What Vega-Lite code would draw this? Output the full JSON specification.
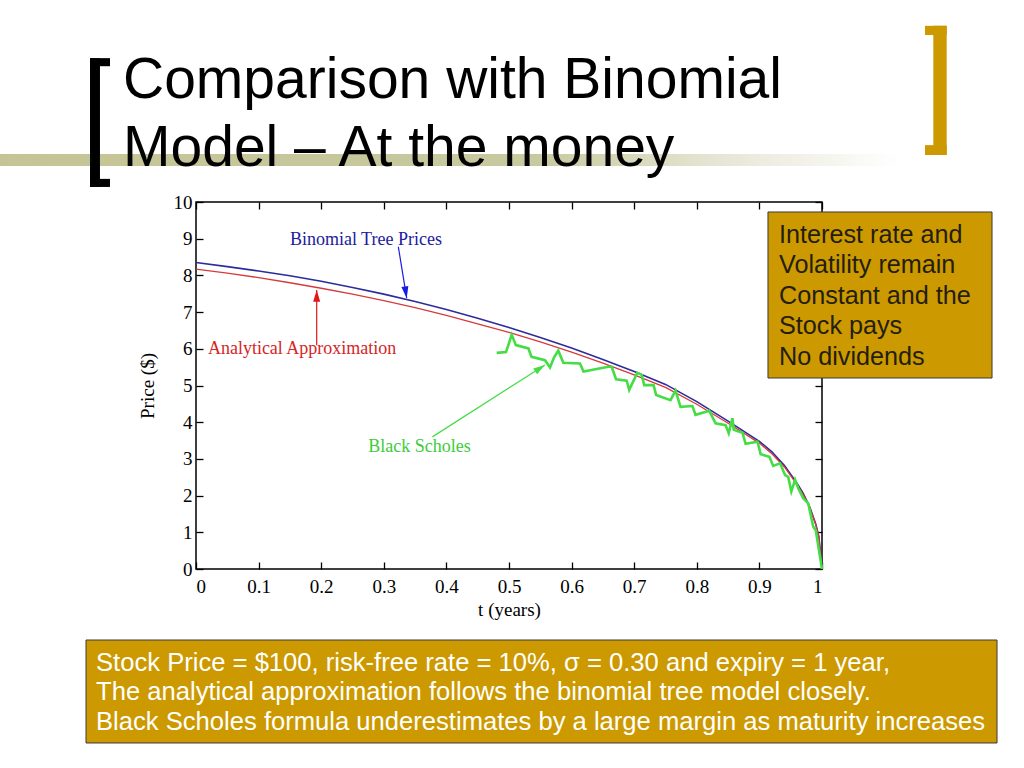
{
  "$schema": "https://vega.github.io/schema/vega-lite/v6.json",
  "width": 626,
  "height": 367,
  "autosize": {"type": "none"},
  "padding": {"left": 196, "top": 202, "right": 202, "bottom": 199},
  "background": "#ffffff",
  "config": {
    "view": {"stroke": "#000000", "strokeWidth": 1.5},
    "axis": {"domain": false, "grid": false, "tickColor": "#000000", "tickWidth": 1.3, "tickSize": -7, "labelFont": "Liberation Serif", "labelFontSize": 19, "labelColor": "#000000", "titleFont": "Liberation Serif", "titleFontSize": 19, "titleFontWeight": "normal", "titleColor": "#000000"}
  },
  "datasets": {
    "curves": [
      {"model": "Binomial", "t": 0, "price": 8.35},
      {"model": "Binomial", "t": 0.05, "price": 8.24},
      {"model": "Binomial", "t": 0.1, "price": 8.12},
      {"model": "Binomial", "t": 0.15, "price": 7.99},
      {"model": "Binomial", "t": 0.2, "price": 7.84},
      {"model": "Binomial", "t": 0.25, "price": 7.67},
      {"model": "Binomial", "t": 0.3, "price": 7.49},
      {"model": "Binomial", "t": 0.35, "price": 7.29},
      {"model": "Binomial", "t": 0.4, "price": 7.07},
      {"model": "Binomial", "t": 0.45, "price": 6.83},
      {"model": "Binomial", "t": 0.5, "price": 6.58},
      {"model": "Binomial", "t": 0.55, "price": 6.31},
      {"model": "Binomial", "t": 0.6, "price": 6.02},
      {"model": "Binomial", "t": 0.65, "price": 5.71},
      {"model": "Binomial", "t": 0.7, "price": 5.38},
      {"model": "Binomial", "t": 0.75, "price": 5.03},
      {"model": "Binomial", "t": 0.8, "price": 4.56},
      {"model": "Binomial", "t": 0.85, "price": 4.03},
      {"model": "Binomial", "t": 0.9, "price": 3.48},
      {"model": "Binomial", "t": 0.92, "price": 3.19},
      {"model": "Binomial", "t": 0.94, "price": 2.82},
      {"model": "Binomial", "t": 0.96, "price": 2.34},
      {"model": "Binomial", "t": 0.97, "price": 2.06},
      {"model": "Binomial", "t": 0.98, "price": 1.71},
      {"model": "Binomial", "t": 0.99, "price": 1.23},
      {"model": "Binomial", "t": 0.995, "price": 0.88},
      {"model": "Binomial", "t": 1, "price": 0},
      {"model": "Analytical", "t": 0, "price": 8.17},
      {"model": "Analytical", "t": 0.05, "price": 8.06},
      {"model": "Analytical", "t": 0.1, "price": 7.94},
      {"model": "Analytical", "t": 0.15, "price": 7.8},
      {"model": "Analytical", "t": 0.2, "price": 7.65},
      {"model": "Analytical", "t": 0.25, "price": 7.49},
      {"model": "Analytical", "t": 0.3, "price": 7.31},
      {"model": "Analytical", "t": 0.35, "price": 7.12},
      {"model": "Analytical", "t": 0.4, "price": 6.91},
      {"model": "Analytical", "t": 0.45, "price": 6.68},
      {"model": "Analytical", "t": 0.5, "price": 6.45},
      {"model": "Analytical", "t": 0.55, "price": 6.19},
      {"model": "Analytical", "t": 0.6, "price": 5.91},
      {"model": "Analytical", "t": 0.65, "price": 5.61},
      {"model": "Analytical", "t": 0.7, "price": 5.29},
      {"model": "Analytical", "t": 0.75, "price": 4.95},
      {"model": "Analytical", "t": 0.8, "price": 4.49},
      {"model": "Analytical", "t": 0.85, "price": 3.97},
      {"model": "Analytical", "t": 0.9, "price": 3.43},
      {"model": "Analytical", "t": 0.92, "price": 3.14},
      {"model": "Analytical", "t": 0.94, "price": 2.78},
      {"model": "Analytical", "t": 0.96, "price": 2.3},
      {"model": "Analytical", "t": 0.97, "price": 2.03},
      {"model": "Analytical", "t": 0.98, "price": 1.69},
      {"model": "Analytical", "t": 0.99, "price": 1.21},
      {"model": "Analytical", "t": 0.995, "price": 0.87},
      {"model": "Analytical", "t": 1, "price": 0},
      {"model": "BlackScholes", "t": 0.4803, "price": 5.89},
      {"model": "BlackScholes", "t": 0.4952, "price": 5.91},
      {"model": "BlackScholes", "t": 0.5043, "price": 6.38},
      {"model": "BlackScholes", "t": 0.511, "price": 6.1},
      {"model": "BlackScholes", "t": 0.531, "price": 6.01},
      {"model": "BlackScholes", "t": 0.536, "price": 5.78},
      {"model": "BlackScholes", "t": 0.5575, "price": 5.69},
      {"model": "BlackScholes", "t": 0.5655, "price": 5.49},
      {"model": "BlackScholes", "t": 0.572, "price": 5.77},
      {"model": "BlackScholes", "t": 0.5787, "price": 5.95},
      {"model": "BlackScholes", "t": 0.5868, "price": 5.62},
      {"model": "BlackScholes", "t": 0.6134, "price": 5.6},
      {"model": "BlackScholes", "t": 0.619, "price": 5.38},
      {"model": "BlackScholes", "t": 0.6587, "price": 5.51},
      {"model": "BlackScholes", "t": 0.664, "price": 5.51},
      {"model": "BlackScholes", "t": 0.671, "price": 5.17},
      {"model": "BlackScholes", "t": 0.688, "price": 5.13},
      {"model": "BlackScholes", "t": 0.692, "price": 4.88},
      {"model": "BlackScholes", "t": 0.705, "price": 5.35},
      {"model": "BlackScholes", "t": 0.712, "price": 5.29},
      {"model": "BlackScholes", "t": 0.716, "price": 5.01},
      {"model": "BlackScholes", "t": 0.731, "price": 5.01},
      {"model": "BlackScholes", "t": 0.735, "price": 4.74},
      {"model": "BlackScholes", "t": 0.758, "price": 4.6},
      {"model": "BlackScholes", "t": 0.766, "price": 4.86},
      {"model": "BlackScholes", "t": 0.774, "price": 4.42},
      {"model": "BlackScholes", "t": 0.793, "price": 4.44},
      {"model": "BlackScholes", "t": 0.798, "price": 4.2},
      {"model": "BlackScholes", "t": 0.82, "price": 4.31},
      {"model": "BlackScholes", "t": 0.83, "price": 3.97},
      {"model": "BlackScholes", "t": 0.846, "price": 3.92},
      {"model": "BlackScholes", "t": 0.851, "price": 3.7},
      {"model": "BlackScholes", "t": 0.857, "price": 4.11},
      {"model": "BlackScholes", "t": 0.859, "price": 3.79},
      {"model": "BlackScholes", "t": 0.873, "price": 3.71},
      {"model": "BlackScholes", "t": 0.878, "price": 3.41},
      {"model": "BlackScholes", "t": 0.897, "price": 3.47},
      {"model": "BlackScholes", "t": 0.902, "price": 3.13},
      {"model": "BlackScholes", "t": 0.916, "price": 3.06},
      {"model": "BlackScholes", "t": 0.922, "price": 2.81},
      {"model": "BlackScholes", "t": 0.933, "price": 2.88},
      {"model": "BlackScholes", "t": 0.941, "price": 2.56},
      {"model": "BlackScholes", "t": 0.946, "price": 2.51},
      {"model": "BlackScholes", "t": 0.951, "price": 2.11},
      {"model": "BlackScholes", "t": 0.957, "price": 2.43},
      {"model": "BlackScholes", "t": 0.962, "price": 2.2},
      {"model": "BlackScholes", "t": 0.97, "price": 1.93},
      {"model": "BlackScholes", "t": 0.978, "price": 1.79},
      {"model": "BlackScholes", "t": 0.986, "price": 1.15},
      {"model": "BlackScholes", "t": 0.99, "price": 1.06},
      {"model": "BlackScholes", "t": 1, "price": 0}
    ],
    "notes": [
      {"model": "Binomial", "label": "Binomial Tree Prices", "t": 0.15, "price": 8.96, "t2": 0.3232, "price2": 8.78, "t3": 0.3366, "price3": 7.38},
      {"model": "Analytical", "label": "Analytical Approximation", "t": 0.019, "price": 5.99, "t2": 0.1928, "price2": 6.1, "t3": 0.1928, "price3": 7.6},
      {"model": "BlackScholes", "label": "Black Scholes", "t": 0.275, "price": 3.33, "t2": 0.3776, "price2": 3.6, "t3": 0.5575, "price3": 5.56}
    ]
  },
  "layer": [
    {
      "data": {"values": [{}]},
      "mark": {"type": "rect", "fill": {"gradient": "linear", "x1": 0, "x2": 1, "y1": 0, "y2": 0, "stops": [{"offset": 0, "color": "#c4c496"}, {"offset": 0.6, "color": "#c9c9a0"}, {"offset": 0.8, "color": "#e6e6d6"}, {"offset": 1, "color": "#ffffff"}]}},
      "encoding": {
        "x": {"datum": -0.3131, "type": "quantitative", "axis": null, "scale": {"domain": [0, 1], "nice": false, "zero": false}},
        "x2": {"datum": 1.1246},
        "y": {"datum": 11.31, "type": "quantitative", "axis": null, "scale": {"domain": [0, 10], "nice": false, "zero": false}},
        "y2": {"datum": 10.98}
      }
    },
    {
      "data": {"values": [{}]},
      "mark": {"type": "rect", "fill": "#000000"},
      "encoding": {"x": {"datum": -0.1693, "type": "quantitative", "axis": null}, "x2": {"datum": -0.1534}, "y": {"datum": 13.92, "type": "quantitative", "axis": null}, "y2": {"datum": 10.41}}
    },
    {
      "data": {"values": [{}]},
      "mark": {"type": "rect", "fill": "#000000"},
      "encoding": {"x": {"datum": -0.1693, "type": "quantitative", "axis": null}, "x2": {"datum": -0.1374}, "y": {"datum": 13.92, "type": "quantitative", "axis": null}, "y2": {"datum": 13.7}}
    },
    {
      "data": {"values": [{}]},
      "mark": {"type": "rect", "fill": "#000000"},
      "encoding": {"x": {"datum": -0.1693, "type": "quantitative", "axis": null}, "x2": {"datum": -0.1374}, "y": {"datum": 10.63, "type": "quantitative", "axis": null}, "y2": {"datum": 10.41}}
    },
    {
      "data": {"values": [{}]},
      "mark": {"type": "rect", "fill": "#cc9900"},
      "encoding": {"x": {"datum": 1.1778, "type": "quantitative", "axis": null}, "x2": {"datum": 1.1992}, "y": {"datum": 14.8, "type": "quantitative", "axis": null}, "y2": {"datum": 11.28}}
    },
    {
      "data": {"values": [{}]},
      "mark": {"type": "rect", "fill": "#cc9900"},
      "encoding": {"x": {"datum": 1.1645, "type": "quantitative", "axis": null}, "x2": {"datum": 1.1992}, "y": {"datum": 14.8, "type": "quantitative", "axis": null}, "y2": {"datum": 14.55}}
    },
    {
      "data": {"values": [{}]},
      "mark": {"type": "rect", "fill": "#cc9900"},
      "encoding": {"x": {"datum": 1.1645, "type": "quantitative", "axis": null}, "x2": {"datum": 1.1992}, "y": {"datum": 11.55, "type": "quantitative", "axis": null}, "y2": {"datum": 11.28}}
    },
    {
      "data": {"values": [{}]},
      "mark": {"type": "text", "text": ["Comparison with Binomial", "Model \u2013 At the money"], "align": "left", "baseline": "alphabetic", "font": "Liberation Sans", "fontSize": 57, "lineHeight": 67.5, "color": "#000000"},
      "encoding": {"x": {"datum": -0.1166, "type": "quantitative", "axis": null}, "y": {"datum": 12.83, "type": "quantitative", "axis": null}}
    },
    {
      "data": {"name": "curves"},
      "transform": [{"filter": "datum.model === 'Binomial'"}],
      "mark": {"type": "line", "color": "#2c2c9c", "strokeWidth": 1.6},
      "encoding": {
        "x": {"field": "t", "type": "quantitative", "scale": {"domain": [0, 1], "nice": false, "zero": false}, "axis": {"orient": "bottom", "values": [0, 0.1, 0.2, 0.3, 0.4, 0.5, 0.6, 0.7, 0.8, 0.9, 1], "format": "~g", "title": "t (years)", "labelPadding": 15, "titlePadding": 4}},
        "y": {"field": "price", "type": "quantitative", "scale": {"domain": [0, 10], "nice": false, "zero": false}, "axis": {"orient": "left", "values": [0, 1, 2, 3, 4, 5, 6, 7, 8, 9, 10], "title": "Price ($)", "labelPadding": 11, "titlePadding": 16}}
      }
    },
    {
      "data": {"name": "curves"},
      "transform": [{"filter": "datum.model === 'Analytical'"}],
      "mark": {"type": "line", "color": "#d63a3a", "strokeWidth": 1.3},
      "encoding": {
        "x": {"field": "t", "type": "quantitative", "axis": {"orient": "top", "values": [0, 0.1, 0.2, 0.3, 0.4, 0.5, 0.6, 0.7, 0.8, 0.9, 1], "labels": false, "title": null}},
        "y": {"field": "price", "type": "quantitative", "axis": {"orient": "right", "values": [0, 1, 2, 3, 4, 5, 6, 7, 8, 9, 10], "labels": false, "title": null}}
      }
    },
    {
      "data": {"name": "curves"},
      "transform": [{"filter": "datum.model === 'BlackScholes'"}],
      "mark": {"type": "line", "color": "#44dd44", "strokeWidth": 2.6, "strokeJoin": "miter"},
      "encoding": {
        "x": {"field": "t", "type": "quantitative", "axis": null},
        "y": {"field": "price", "type": "quantitative", "axis": null}
      }
    },
    {
      "data": {"name": "notes"},
      "mark": {"type": "text", "align": "left", "baseline": "middle", "font": "Liberation Serif", "fontSize": 18},
      "encoding": {
        "x": {"field": "t", "type": "quantitative", "axis": null},
        "y": {"field": "price", "type": "quantitative", "axis": null},
        "text": {"field": "label"},
        "color": {"field": "model", "type": "nominal", "scale": {"domain": ["Binomial", "Analytical", "BlackScholes"], "range": ["#20209e", "#d42626", "#3ccc3c"]}, "legend": null}
      }
    },
    {
      "data": {"name": "notes"},
      "mark": {"type": "rule", "strokeWidth": 1.2},
      "encoding": {
        "x": {"field": "t2", "type": "quantitative", "axis": null},
        "y": {"field": "price2", "type": "quantitative", "axis": null},
        "x2": {"field": "t3"},
        "y2": {"field": "price3"},
        "stroke": {"field": "model", "type": "nominal", "scale": {"domain": ["Binomial", "Analytical", "BlackScholes"], "range": ["#1a1ae6", "#e01818", "#44dd44"]}, "legend": null}
      }
    },
    {
      "data": {"name": "notes"},
      "transform": [{"filter": "datum.model === 'Binomial'"}],
      "mark": {"type": "point", "shape": "M0,0L-0.3,1L0.3,1Z", "filled": true, "size": 550, "angle": 171, "color": "#1a1ae6", "opacity": 1, "strokeWidth": 0},
      "encoding": {"x": {"field": "t3", "type": "quantitative", "axis": null}, "y": {"field": "price3", "type": "quantitative", "axis": null}}
    },
    {
      "data": {"name": "notes"},
      "transform": [{"filter": "datum.model === 'Analytical'"}],
      "mark": {"type": "point", "shape": "M0,0L-0.3,1L0.3,1Z", "filled": true, "size": 550, "angle": 0, "color": "#e01818", "opacity": 1, "strokeWidth": 0},
      "encoding": {"x": {"field": "t3", "type": "quantitative", "axis": null}, "y": {"field": "price3", "type": "quantitative", "axis": null}}
    },
    {
      "data": {"name": "notes"},
      "transform": [{"filter": "datum.model === 'BlackScholes'"}],
      "mark": {"type": "point", "shape": "M0,0L-0.3,1L0.3,1Z", "filled": true, "size": 550, "angle": 57, "color": "#44dd44", "opacity": 1, "strokeWidth": 0},
      "encoding": {"x": {"field": "t3", "type": "quantitative", "axis": null}, "y": {"field": "price3", "type": "quantitative", "axis": null}}
    },
    {
      "data": {"values": [{}]},
      "mark": {"type": "rect", "fill": "#cc9900", "stroke": "#3a3a3a", "strokeWidth": 1},
      "encoding": {"x": {"datum": 0.9137, "type": "quantitative", "axis": null}, "x2": {"datum": 1.2716}, "y": {"datum": 9.728, "type": "quantitative", "axis": null}, "y2": {"datum": 5.204}}
    },
    {
      "data": {"values": [{}]},
      "mark": {"type": "text", "text": ["Interest rate and", "Volatility remain", "Constant and the", "Stock pays", "No dividends"], "align": "left", "baseline": "alphabetic", "font": "Liberation Sans", "fontSize": 25.2, "lineHeight": 30.4, "color": "#241e0e"},
      "encoding": {"x": {"datum": 0.9313, "type": "quantitative", "axis": null}, "y": {"datum": 8.883, "type": "quantitative", "axis": null}}
    },
    {
      "data": {"values": [{}]},
      "mark": {"type": "rect", "fill": "#cc9900", "stroke": "#3a3a3a", "strokeWidth": 1},
      "encoding": {"x": {"datum": -0.1757, "type": "quantitative", "axis": null}, "x2": {"datum": 1.2796}, "y": {"datum": -1.935, "type": "quantitative", "axis": null}, "y2": {"datum": -4.741}}
    },
    {
      "data": {"values": [{}]},
      "mark": {"type": "text", "text": ["Stock Price = $100, risk-free rate = 10%, \u03c3 = 0.30 and expiry = 1 year,", "The analytical approximation follows the binomial tree model closely.", "Black Scholes formula underestimates by a large margin as maturity increases"], "align": "left", "baseline": "alphabetic", "font": "Liberation Sans", "fontSize": 25.6, "lineHeight": 29.3, "color": "#ffffff"},
      "encoding": {"x": {"datum": -0.1597, "type": "quantitative", "axis": null}, "y": {"datum": -2.779, "type": "quantitative", "axis": null}}
    }
  ],
  "resolve": {"axis": {"x": "independent", "y": "independent"}}
}
